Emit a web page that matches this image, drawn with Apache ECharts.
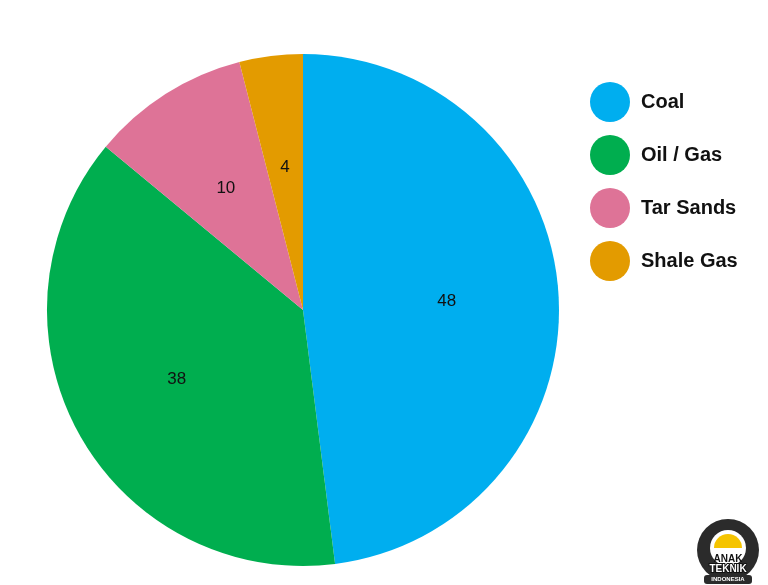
<!DOCTYPE html>
<html>
<head>
<meta charset="utf-8">
<script src="https://cdn.jsdelivr.net/npm/echarts@6/dist/echarts.min.js"></script>
<style>
html,body{margin:0;padding:0;background:#fff;}
#c{width:768px;height:585px;}
</style>
</head>
<body>
<div id="c"></div>
<script>
const categories = ['Coal', 'Oil / Gas', 'Tar Sands', 'Shale Gas'];
const values = [48, 38, 10, 4];
const colors = ['#00aeef', '#00ae4f', '#de7397', '#e39b00'];

const chart = echarts.init(document.getElementById('c'));
const data = categories.map((n, i) => ({ name: n, value: values[i], itemStyle: { color: colors[i] } }));
const labelData = categories.map((n, i) => ({ name: n, value: values[i], itemStyle: { color: 'rgba(0,0,0,0)' } }));

chart.setOption({
  backgroundColor: '#fff',
  animation: false,
  legend: {
    orient: 'vertical',
    left: 585,
    top: 77,
    icon: 'circle',
    itemWidth: 40,
    itemHeight: 40,
    itemGap: 13,
    data: categories,
    selectedMode: false,
    textStyle: {
      fontFamily: 'Liberation Sans, Arial, sans-serif',
      fontSize: 20,
      fontWeight: 'bold',
      color: '#111',
      padding: [0, 0, 0, 6]
    }
  },
  series: [
    {
      type: 'pie',
      center: [303, 310],
      radius: [0, 256],
      startAngle: 90,
      clockwise: true,
      data: data,
      label: { show: false },
      labelLine: { show: false },
      itemStyle: { borderWidth: 0 },
      emphasis: { disabled: true },
      silent: true
    },
    {
      type: 'pie',
      center: [303, 310],
      radius: [0, 282],
      startAngle: 90,
      clockwise: true,
      data: labelData,
      label: {
        show: true,
        position: 'inside',
        formatter: '{c}',
        fontFamily: 'Liberation Sans, Arial, sans-serif',
        fontSize: 17,
        color: '#111'
      },
      labelLine: { show: false },
      itemStyle: { borderWidth: 0 },
      emphasis: { disabled: true },
      silent: true,
      z: 3
    }
  ],
  graphic: [
    {
      type: 'group',
      left: 697,
      top: 519,
      children: [
        { type: 'circle', shape: { cx: 32, cy: 32, r: 31 }, style: { fill: '#2b2b2b' } },
        { type: 'circle', shape: { cx: 32, cy: 30, r: 18 }, style: { fill: '#fff' } },
        { type: 'sector', shape: { cx: 32, cy: 30, r: 14, startAngle: Math.PI, endAngle: 2 * Math.PI }, style: { fill: '#f5c400' } },
        { type: 'text', style: { x: 32, y: 36, text: 'ANAK', fill: '#111', font: 'bold 10px Liberation Sans', align: 'center' } },
        { type: 'text', style: { x: 32, y: 46, text: 'TEKNIK', fill: '#fff', font: 'bold 10px Liberation Sans', align: 'center', stroke: '#111', lineWidth: 2 } },
        { type: 'rect', shape: { x: 8, y: 57, width: 48, height: 9, r: 3 }, style: { fill: '#2b2b2b' } },
        { type: 'text', style: { x: 32, y: 58, text: 'INDONESIA', fill: '#fff', font: 'bold 6px Liberation Sans', align: 'center' } }
      ]
    }
  ]
});
</script>
</body>
</html>
